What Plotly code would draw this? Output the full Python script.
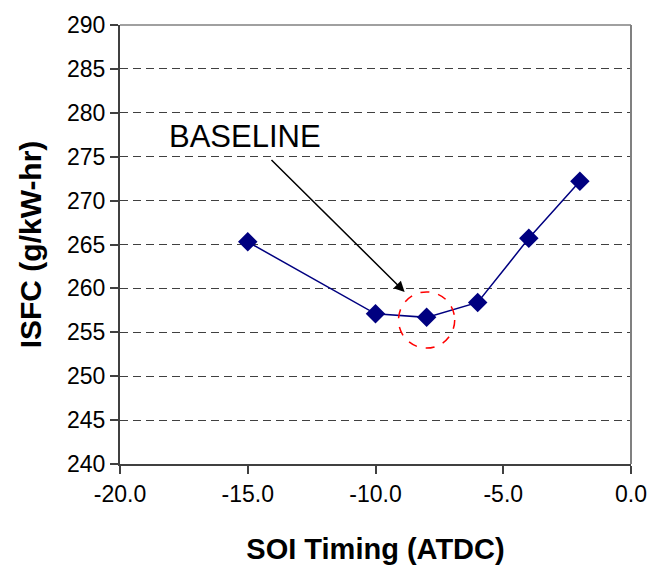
import plotly.graph_objects as go

soi_timing = [-15.0, -10.0, -8.0, -6.0, -4.0, -2.0]
isfc = [265.3, 257.1, 256.7, 258.4, 265.7, 272.2]

x_ticks = [-20.0, -15.0, -10.0, -5.0, 0.0]
y_ticks = [240, 245, 250, 255, 260, 265, 270, 275, 280, 285, 290]

font_family = "Liberation Sans, Arial, sans-serif"

fig = go.Figure()
fig.add_trace(go.Scatter(
    x=soi_timing, y=isfc, mode="lines+markers",
    line=dict(color="#000080", width=1.5),
    marker=dict(symbol="diamond", size=15, color="#000080"),
    showlegend=False,
))

# red dashed circle around baseline
fig.add_shape(type="circle", xref="x", yref="y",
              x0=-9.1, x1=-6.9, y0=253.2, y1=259.6,
              line=dict(color="#ff0000", width=1.5, dash="dash"))

fig.add_annotation(x=-8.86, y=259.6, ax=-14.13, ay=274.8,
                   xref="x", yref="y", axref="x", ayref="y",
                   showarrow=True, arrowhead=2, arrowsize=1.4, arrowwidth=1.5,
                   arrowcolor="black", text="")
fig.add_annotation(x=-15.1, y=277.3, xref="x", yref="y", text="BASELINE",
                   showarrow=False, font=dict(size=31, color="black", family=font_family),
                   xanchor="center", yanchor="middle")

fig.update_layout(
    width=653, height=571,
    margin=dict(l=120, r=22, t=25, b=107),
    paper_bgcolor="white", plot_bgcolor="white",
    font=dict(family=font_family, color="black"),
    shapes=list(fig.layout.shapes) + [
        dict(type="line", xref="paper", yref="paper", x0=0, x1=1, y0=1, y1=1,
             line=dict(color="#808080", width=1.5)),
        dict(type="line", xref="paper", yref="paper", x0=1, x1=1, y0=0, y1=1,
             line=dict(color="#808080", width=2)),
    ],
)
fig.update_xaxes(
    range=[-20, 0], tickvals=x_ticks, ticktext=[f"{v:.1f}" for v in x_ticks],
    automargin=False,
    showgrid=False, zeroline=False, showline=True, linecolor="#404040", linewidth=2,
    ticks="outside", ticklen=8, tickcolor="#404040", tickwidth=1.5,
    tickfont=dict(size=23, family=font_family),
    title=dict(text="<b>SOI Timing (ATDC)</b>", font=dict(size=29, family=font_family), standoff=33),
)
fig.update_yaxes(
    range=[240, 290], tickvals=y_ticks,
    automargin=False,
    showgrid=True, gridcolor="#404040", griddash="8px,5px", gridwidth=1,
    zeroline=False, showline=True, linecolor="#404040", linewidth=2,
    ticks="outside", ticklen=8, tickcolor="#404040", tickwidth=1.5,
    tickfont=dict(size=23, family=font_family),
    title=dict(text="<b>ISFC (g/kW-hr)</b>", font=dict(size=30, family=font_family), standoff=17),
)

fig.write_html("out.html")
